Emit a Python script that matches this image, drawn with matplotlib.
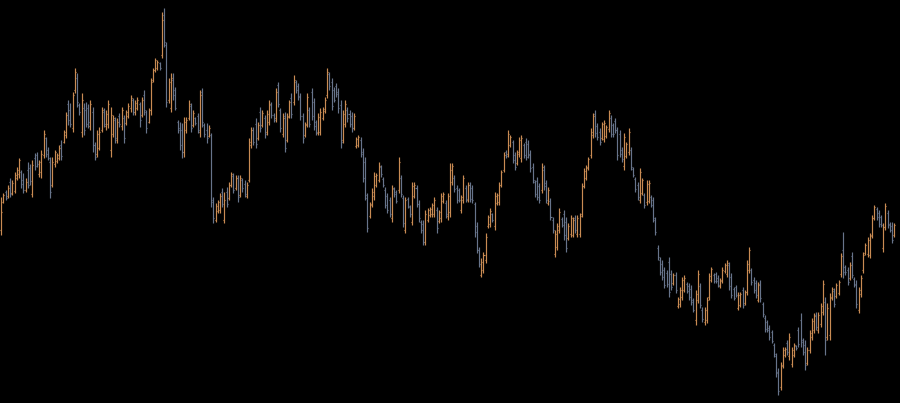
import matplotlib
matplotlib.use('Agg')
import matplotlib.pyplot as plt
import numpy as np

# OHLC price data, one entry per bar
highs = [203,207,210,215,222,220,228,233,242,230,227,222,238,236,240,247,248,240,250,270,263,253,243,243,250,247,255,260,
         270,288,300,297,308,332,327,297,307,297,298,296,300,293,258,270,273,293,292,290,300,
         293,285,283,282,287,293,285,290,297,305,302,300,303,298,303,310,290,292,322,332,342,340,338,388,392,
         358,322,327,327,313,280,278,277,283,283,300,297,290,283,287,310,312,277,277,275,267,203,197,200,207,212,
         208,213,218,228,227,225,225,225,222,220,218,262,273,273,282,278,293,290,285,290,300,298,287,312,318,
         292,287,288,287,300,307,325,320,317,307,287,278,307,293,312,302,280,287,292,293,303,332,328,322,313,317,
         312,300,290,300,293,290,288,287,263,265,263,252,243,207,198,212,228,227,238,235,223,213,207,203,215,
         213,210,243,225,205,203,203,195,218,218,215,200,180,180,190,192,193,197,203,193,190,207,208,200,207,
         237,237,225,215,212,205,225,215,218,218,215,198,178,153,142,148,167,185,192,187,208,207,218,230,248,
         250,270,265,260,248,250,263,265,257,262,260,250,237,220,223,217,237,235,220,213,202,183,170,177,192,183,
         190,183,177,185,183,185,185,187,217,232,235,243,272,287,290,277,272,278,280,275,290,285,277,282,273,
         270,253,267,258,272,253,233,223,218,232,222,207,220,220,205,203,183,155,143,140,133,130,143,130,127,128,103,
         113,123,125,118,117,115,102,110,130,117,93,93,103,127,133,127,128,125,122,133,137,140,138,127,113,
         115,108,108,113,110,140,153,132,123,120,118,120,98,85,80,75,70,57,47,32,38,53,53,60,67,
         53,57,55,73,87,62,60,53,70,82,87,88,88,97,120,103,97,107,113,112,117,120,147,168,135,
         133,138,148,123,120,113,125,148,157,163,167,185,195,193,190,185,177,197,190,178,178,177]
lows = [165,197,200,202,203,205,207,220,222,212,207,208,212,215,203,230,233,223,222,242,243,240,202,213,233,237,240,240,
        257,262,275,273,268,307,293,285,263,265,273,272,270,248,240,243,250,268,273,270,272,
        243,263,257,257,273,270,257,275,282,288,285,285,290,273,283,285,267,277,285,318,328,330,330,342,353,
        293,297,288,300,290,267,250,242,243,267,280,268,273,275,267,263,273,263,257,263,193,177,178,187,187,193,
        177,193,200,213,207,210,198,203,208,203,202,218,252,255,252,260,268,273,262,265,275,282,278,278,293,
        268,263,248,258,282,282,295,307,300,280,257,263,273,273,280,270,265,265,265,280,287,302,310,290,298,303,
        287,252,257,273,278,273,268,270,252,253,243,218,200,168,182,193,200,213,218,223,213,192,187,183,178,
        203,197,207,203,173,167,192,183,175,202,193,178,167,155,155,178,183,183,183,167,177,178,197,182,180,
        183,215,208,197,198,187,197,198,198,198,197,163,147,133,123,127,137,172,173,178,170,195,195,213,228,
        242,243,253,237,230,235,243,238,242,240,242,228,217,203,200,197,207,210,197,195,180,167,143,150,167,173,
        160,148,160,163,163,167,163,163,183,212,220,230,242,262,263,260,255,260,258,262,268,263,263,267,240,
        243,238,230,242,245,230,223,208,200,197,205,192,195,197,193,178,165,140,125,120,112,113,103,110,115,107,92,
        93,100,108,107,100,95,88,75,97,92,78,75,77,100,118,117,117,113,112,117,127,123,110,102,100,
        103,90,93,92,95,105,127,115,107,102,98,98,83,68,68,60,57,43,23,5,10,32,43,45,40,
        33,43,50,53,53,45,30,35,47,60,67,70,67,73,85,45,60,60,100,93,102,105,123,122,125,
        115,120,122,113,92,87,103,127,145,143,142,162,180,180,173,173,148,170,172,168,157,163]
opens = [170,198,208,204,218,207,209,222,226,228,220,210,230,232,206,242,245,226,228,245,262,250,238,215,236,239,242,255,
         258,265,296,290,272,310,322,295,268,292,290,292,274,288,255,246,252,270,288,274,276,
         250,266,280,260,284,274,282,277,284,292,300,288,292,296,285,305,288,278,290,320,330,332,337,345,385,
         355,300,292,320,310,278,272,270,248,270,282,294,275,282,284,268,308,275,270,264,265,200,180,189,190,208,
         180,208,202,215,224,212,222,205,220,216,204,220,255,270,276,262,288,275,282,268,278,295,285,282,315,
         290,266,284,260,284,302,298,318,314,304,284,265,276,290,308,298,278,267,268,282,289,305,326,318,310,314,
         308,295,260,276,290,286,284,272,254,255,260,248,238,202,184,196,204,215,220,233,221,210,204,200,182,
         211,208,210,222,202,170,201,193,178,204,212,196,178,176,158,180,185,186,186,190,179,182,199,197,184,
         188,218,222,212,210,190,200,212,200,215,212,196,174,150,125,130,140,174,176,186,174,197,198,215,230,
         248,246,255,258,245,237,246,242,255,258,256,246,233,218,219,214,210,230,217,197,199,180,146,153,170,181,
         186,178,162,166,165,182,166,166,186,214,222,232,245,265,286,274,268,262,261,264,271,282,275,279,270,
         266,250,234,244,248,250,231,221,215,200,207,205,198,199,203,200,180,152,140,136,130,127,138,126,117,125,94,
         96,103,110,116,114,111,100,80,100,114,90,78,80,103,120,125,126,122,114,119,129,126,135,123,111,
         113,92,95,110,97,108,130,130,120,117,100,116,96,82,78,72,68,55,44,28,13,35,45,57,44,
         36,45,54,70,80,60,55,37,50,63,70,85,70,76,88,98,63,65,102,109,104,107,126,150,133,
         130,122,144,121,116,90,106,130,147,146,145,165,182,191,187,183,152,173,187,176,174,165]
closes = [188,205,202,212,206,217,225,230,240,216,210,218,215,219,235,234,236,238,246,266,246,242,208,238,248,245,252,244,
          268,285,280,276,305,328,298,288,300,270,276,278,296,255,243,266,268,290,276,286,296,
          285,282,262,278,276,290,262,288,294,302,288,297,300,280,300,290,272,290,318,330,340,338,332,380,358,
          298,318,322,305,292,270,255,248,278,280,296,272,287,277,270,305,278,266,262,272,198,182,194,198,204,196,
          200,196,215,226,210,222,203,222,212,206,215,258,270,258,256,275,272,287,266,286,296,285,280,308,296,
          272,282,252,283,298,286,320,310,303,284,262,275,303,276,284,274,268,283,288,291,300,328,314,294,300,306,
          292,258,286,296,282,276,272,284,261,263,246,222,205,172,195,208,224,225,234,226,215,195,190,186,212,
          206,199,238,206,177,200,194,186,214,215,196,182,170,158,186,190,191,195,200,172,188,204,206,186,204,
          230,234,211,200,200,203,222,201,215,201,200,168,150,136,138,145,163,183,189,180,204,205,215,228,245,
          244,266,263,240,233,248,260,262,245,243,245,232,220,206,203,200,233,214,200,210,183,170,166,174,188,175,
          165,152,174,182,180,170,182,184,214,229,233,241,268,284,267,263,258,276,277,273,287,266,266,270,245,
          246,241,263,256,268,233,225,211,203,228,220,195,216,217,195,182,168,143,128,123,115,116,108,113,125,110,101,
          110,120,122,109,103,98,90,106,126,95,81,90,100,124,131,119,119,115,120,130,135,137,114,105,102,
          105,105,106,95,108,136,150,118,110,105,115,102,86,71,70,63,59,46,27,9,34,50,51,48,63,
          50,55,52,56,58,48,35,50,67,79,84,73,85,94,116,60,92,103,111,96,115,118,144,128,128,
          118,135,125,115,96,110,122,145,155,160,164,182,193,183,176,175,173,194,175,170,160,175]

assert len(highs) == len(lows) == len(opens) == len(closes), (len(highs), len(lows), len(opens), len(closes))

up_color = '#c98b53'
down_color = '#67748b'

n = len(closes)
x = np.arange(n)
h = np.array(highs)
l = np.array(lows)
o = np.array(opens)
c = np.array(closes)
colors = np.where(c >= o, up_color, down_color)

fig = plt.figure(figsize=(9, 4.03), dpi=100)
fig.patch.set_facecolor('black')
ax = fig.add_axes([0, 0, 1, 1])
ax.set_facecolor('black')

tick = 0.45
ax.vlines(x, l, h, colors=colors, linewidth=0.85)
ax.hlines(o, x - tick, x, colors=colors, linewidth=0.85)
ax.hlines(c, x, x + tick, colors=colors, linewidth=0.85)

ax.set_xlim(-0.5, n + 1.5)
ax.set_ylim(-3, 400)
ax.axis('off')

fig.savefig('out.png', dpi=100, facecolor='black')
